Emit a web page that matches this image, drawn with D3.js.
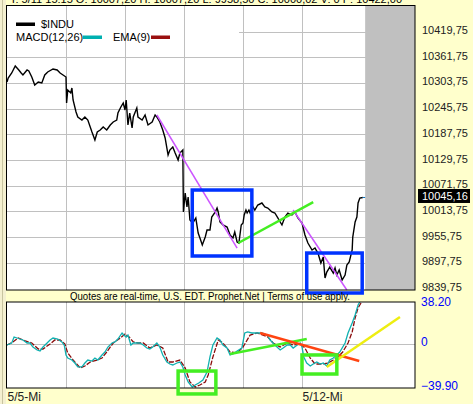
<!DOCTYPE html>
<html>
<head>
<meta charset="utf-8">
<script src="https://cdn.jsdelivr.net/npm/d3@7"></script>
<style>
  body { margin: 0; background: #ffffcc; }
  svg { display: block; font-family: "Liberation Sans", Arial, sans-serif; }
</style>
</head>
<body>
<svg id="chart" width="473" height="404"></svg>
<script>
// time is in trading days from the 5/5 open
const priceT = [0.00,0.02,0.08,0.14,0.17,0.20,0.24,0.27,0.34,0.37,
  0.42,0.47,0.53,0.59,0.64,0.69,0.78,0.85,0.90,0.95,
  1.00,1.01,1.03,1.08,1.10,1.12,1.17,1.20,1.27,1.32,
  1.37,1.44,1.49,1.53,1.58,1.63,1.69,1.75,1.80,1.86,
  1.88,1.93,1.97,2.00,2.02,2.05,2.08,2.12,2.14,2.20,
  2.22,2.29,2.34,2.39,2.46,2.51,2.54,2.59,2.64,2.68,
  2.73,2.76,2.81,2.85,2.90,2.93,2.98,2.99,3.02,3.05,
  3.07,3.10,3.15,3.20,3.24,3.27,3.31,3.36,3.39,3.44,
  3.47,3.53,3.56,3.58,3.61,3.66,3.73,3.78,3.83,3.86,
  3.90,3.93,3.97,4.00,4.02,4.05,4.07,4.10,4.12,4.17,
  4.20,4.25,4.32,4.37,4.42,4.49,4.54,4.59,4.66,4.71,
  4.76,4.83,4.88,4.93,5.00,5.05,5.10,5.17,5.22,5.27,
  5.32,5.36,5.39,5.42,5.47,5.53,5.56,5.59,5.63,5.68,
  5.73,5.76,5.80,5.85,5.86,5.90,5.93,5.95,5.98,6.03];
const priceV = [10305.8,10314.8,10326.1,10341.9,10337.4,10332.9,10326.1,10321.6,10332.9,10330.6,
  10317.0,10299.0,10305.8,10303.5,10321.6,10328.4,10335.1,10332.9,10326.1,10321.6,
  10317.0,10258.4,10287.7,10281.0,10292.2,10265.2,10238.1,10226.8,10220.0,10226.8,
  10220.0,10192.9,10174.9,10192.9,10197.5,10204.2,10197.5,10208.8,10215.5,10220.0,
  10235.8,10249.4,10258.4,10242.6,10265.2,10208.8,10235.8,10202.0,10226.8,10247.1,
  10226.8,10220.0,10231.3,10208.8,10215.5,10231.3,10226.8,10215.5,10197.5,10179.4,
  10141.0,10152.3,10159.1,10145.5,10129.7,10145.5,10152.3,10012.4,10055.3,10023.7,
  10046.2,9994.4,9987.6,9998.9,9965.0,9953.7,9937.9,9955.9,9971.8,9971.8,
  10001.1,10012.4,10021.4,10012.4,9989.8,9983.1,9978.5,9960.5,9953.7,9967.2,
  9944.7,9942.4,9983.1,9987.6,10005.6,10016.9,10010.1,10016.9,10010.1,10023.7,
  10016.9,10028.2,10032.7,10023.7,10021.4,10012.4,10010.1,9998.9,9983.1,10001.1,
  10010.1,10005.6,10012.4,9998.9,9987.6,9960.5,9942.4,9926.6,9931.1,9919.8,
  9897.3,9910.8,9863.4,9876.9,9888.2,9874.7,9886.0,9870.1,9881.4,9858.9,
  9870.1,9892.7,9899.5,9926.6,9955.9,9989.8,10001.1,10032.7,10044.0,10045.16];

const macdT = [0.00,0.08,0.12,0.17,0.22,0.27,0.34,0.39,0.44,0.51,
  0.56,0.61,0.68,0.73,0.78,0.86,0.93,0.97,1.00,1.03,
  1.10,1.15,1.20,1.27,1.32,1.37,1.44,1.49,1.54,1.61,
  1.66,1.71,1.78,1.83,1.88,1.95,1.98,2.02,2.05,2.10,
  2.14,2.20,2.25,2.31,2.37,2.42,2.47,2.54,2.59,2.64,
  2.71,2.76,2.81,2.88,2.93,2.98,3.02,3.07,3.14,3.19,
  3.25,3.32,3.39,3.44,3.49,3.56,3.61,3.66,3.73,3.78,
  3.83,3.90,3.98,4.03,4.08,4.15,4.24,4.32,4.41,4.46,
  4.54,4.63,4.68,4.75,4.80,4.85,4.92,4.97,5.00,5.03,
  5.08,5.14,5.19,5.25,5.31,5.36,5.42,5.47,5.53,5.59,
  5.64,5.73,5.78,5.85,5.90,5.95,5.98,6.02];
const macdV = [-0.85,0.97,6.4,5.5,4.6,3.7,0.97,0.97,-2.7,-5.4,
  -6.3,-2.7,0.97,3.7,5.5,4.6,1.9,-0.85,-9.9,-12.7,
  -14.5,-17.2,-20.8,-20.8,-17.2,-14.5,-15.4,-12.7,-14.5,-9.9,
  -7.2,-2.7,0.97,1.9,4.6,10.05,8.2,6.4,8.2,-0.85,
  0.97,0.97,0.97,-0.85,-3.6,-4.5,-2.7,0.97,-2.7,-9.9,
  -16.3,-18.1,-19.0,-17.2,-16.3,-20.8,-28.1,-34.4,-39.0,-37.2,
  -35.4,-32.6,-25.4,-11.7,-0.85,5.5,3.7,-0.85,-3.6,-9.9,
  -9.0,-6.3,-3.6,10.05,11.0,10.05,10.05,10.05,8.2,3.7,
  -0.85,-5.4,-3.6,-0.85,-0.85,-3.6,-0.85,0.97,-2.7,-11.7,
  -17.2,-19.9,-18.1,-16.3,-18.1,-17.2,-19.9,-14.5,-12.7,-9.9,
  -7.2,0.97,10.05,19.1,26.4,35.5,38.2,44];

const emaT = [0.00,0.10,0.19,0.31,0.42,0.53,0.61,0.73,0.81,0.90,
  0.98,1.03,1.12,1.24,1.32,1.41,1.53,1.61,1.69,1.80,
  1.92,2.00,2.07,2.14,2.22,2.31,2.42,2.54,2.64,2.73,
  2.81,2.93,3.02,3.10,3.19,3.27,3.36,3.41,3.49,3.58,
  3.66,3.78,3.90,4.00,4.12,4.24,4.34,4.42,4.51,4.63,
  4.75,4.85,4.97,5.05,5.14,5.22,5.34,5.44,5.53,5.61,
  5.69,5.78,5.85,5.90,5.95,6.00];
const emaV = [-0.85,1.9,5.5,2.8,0.97,-4.5,-4.5,0.06,3.7,3.7,
  0.06,-8.1,-14.5,-21.7,-19.9,-16.3,-14.5,-12.7,-7.2,0.97,
  5.5,9.1,6.4,1.9,0.97,0.97,-3.6,-0.85,-3.6,-16.3,
  -16.3,-14.5,-21.7,-34.4,-39.0,-37.2,-34.4,-28.1,-11.7,3.7,
  0.97,-7.2,-8.1,-2.7,8.2,10.05,8.2,6.4,0.97,-2.7,
  0.97,-0.85,0.06,-3.6,-12.7,-18.1,-18.1,-17.2,-14.5,-11.7,
  -7.2,0.97,11.0,23.7,32.8,37.3];

const priceTicks = [10419.75,10361.75,10303.75,10245.75,10187.75,10129.75,10071.75,10013.75,9955.75,9897.75,9839.75];
const macdTicks = [38.2, 0, -39.9];
const dayTicks = [1, 2, 3, 4, 5];
const dateT = [0, 5];
const dateText = ["5/5-Mi", "5/12-Mi"];
const lastPrice = 10045.16;
const futureStart = 6.07;

// hand-drawn studies on the chart
const priceLines = [
  { color: "#cc55ff", w: 1.5, t: [2.54, 3.90], v: [10231.3, 9931.1] },
  { color: "#cc55ff", w: 1.5, t: [4.85, 5.76], v: [10016.9, 9836.4] },
  { color: "#44ee22", w: 2.5, t: [3.92, 5.19], v: [9942.4, 10034.9] }
];
const priceBoxes = [
  { t: [3.14, 4.15], v: [9913.1, 10062.0] },
  { t: [5.08, 6.02], v: [9829.6, 9919.8] }
];
const macdLines = [
  { color: "#44ee22", t: [3.78, 5.08], v: [-9.0, 4.6] },
  { color: "#ff4411", t: [4.29, 5.97], v: [10.05, -15.4] },
  { color: "#eeee11", t: [5.42, 6.66], v: [-20.8, 24.6] }
];
const macdBoxes = [
  { t: [2.90, 3.54], v: [-45.3, -24.5] },
  { t: [5.00, 5.59], v: [-27.2, -9.9] }
];

const svg = d3.select("#chart");
const L = 6.5, R = 415;
const mainTop = 5.5, mainBot = 290;
const lowTop = 302, lowBot = 388;

const x = d3.scaleLinear().domain([0, 6.915]).range([7, 415]);
const yP = d3.scaleLinear().domain([9839.75, 10419.75]).range([288.5, 31.5]);
const yM = d3.scaleLinear().domain([-39.9, 38.2]).range([lowBot, lowTop]);

// left bevel
svg.append("rect").attr("x", 0).attr("y", 0).attr("width", 6).attr("height", 404).attr("fill", "#f4f0d0");
svg.append("line").attr("x1", 2.5).attr("x2", 2.5).attr("y1", 0).attr("y2", 404).attr("stroke", "#c8c4a0");

// header (scrolled up, only its lower edge shows)
svg.append("text").attr("x", 10).attr("y", 3).attr("font-size", 11).attr("fill", "#000")
  .text("T: 5/11 15:15  O: 10007,20  H: 10007,20  L: 9958,50  C: 10000,02  V: 0  P: 10422,00");

// ---- main panel
svg.append("rect").attr("x", L).attr("y", mainTop).attr("width", R - L).attr("height", mainBot - mainTop).attr("fill", "#fff");

svg.append("g").selectAll("line")
  .data(priceTicks.slice(0, -1))
  .enter().append("line")
  .attr("x1", L).attr("x2", R)
  .attr("y1", d => Math.round(yP(d)) + 0.5).attr("y2", d => Math.round(yP(d)) + 0.5)
  .attr("stroke", "#c0c0c0");

// legend sits on a white patch
svg.append("rect").attr("x", 7).attr("y", 12).attr("width", 232).attr("height", 36).attr("fill", "#fff");

svg.append("rect").attr("x", x(futureStart)).attr("y", mainTop).attr("width", R - x(futureStart)).attr("height", mainBot - mainTop).attr("fill", "#c0c0c0");

svg.append("g").selectAll("line")
  .data(dayTicks)
  .enter().append("line")
  .attr("x1", d => Math.round(x(d)) + 0.5).attr("x2", d => Math.round(x(d)) + 0.5)
  .attr("y1", mainTop).attr("y2", mainBot)
  .attr("stroke", "#c0c0c0");

const priceData = priceT.map((t, i) => ({ t, v: priceV[i] }));
svg.append("path")
  .datum(priceData)
  .attr("fill", "none").attr("stroke", "#000").attr("stroke-width", 1.4)
  .attr("d", d3.line().x(d => x(d.t)).y(d => yP(d.v)));

priceLines.forEach(l => {
  svg.append("line")
    .attr("x1", x(l.t[0])).attr("y1", yP(l.v[0]))
    .attr("x2", x(l.t[1])).attr("y2", yP(l.v[1]))
    .attr("stroke", l.color).attr("stroke-width", l.w);
});

// legend
svg.append("rect").attr("x", 16).attr("y", 22.5).attr("width", 19).attr("height", 3.5).attr("fill", "#000");
svg.append("text").attr("x", 41).attr("y", 28).attr("font-size", 11).text("$INDU");
svg.append("text").attr("x", 16).attr("y", 41).attr("font-size", 11).text("MACD(12,26)");
svg.append("rect").attr("x", 83).attr("y", 35.5).attr("width", 19).attr("height", 3.5).attr("fill", "#00b0b0");
svg.append("text").attr("x", 113).attr("y", 41).attr("font-size", 11).text("EMA(9)");
svg.append("rect").attr("x", 151).attr("y", 35.5).attr("width", 19).attr("height", 3.5).attr("fill", "#9a1010");

svg.append("rect").attr("x", L).attr("y", mainTop).attr("width", R - L).attr("height", mainBot - mainTop)
  .attr("fill", "none").attr("stroke", "#000");

// price axis
const fmtP = d => d3.format(".2f")(d).replace(".", ",");
const axP = svg.append("g").attr("transform", `translate(${R},-1.5)`)
  .call(d3.axisRight(yP).tickValues(priceTicks).tickSize(0).tickPadding(7).tickFormat(fmtP));
axP.select(".domain").remove();
axP.selectAll("text").attr("font-size", 11).attr("font-family", "Liberation Sans, Arial, sans-serif").attr("fill", "#222");

// last price tag
const lastG = svg.append("g").attr("transform", `translate(418,${yP(lastPrice) - 1.5})`);
lastG.append("rect").attr("x", 0).attr("y", -7).attr("width", 52).attr("height", 14).attr("fill", "#000");
lastG.append("text").attr("x", 4).attr("y", 4).attr("font-size", 11).attr("fill", "#fff").text(fmtP(lastPrice));
svg.append("line").attr("x1", x(6.03)).attr("x2", x(6.07)).attr("y1", yP(lastPrice)).attr("y2", yP(lastPrice))
  .attr("stroke", "#0070c0");

// ---- lower panel
svg.append("rect").attr("x", L).attr("y", lowTop).attr("width", R - L).attr("height", lowBot - lowTop).attr("fill", "#fff");
svg.append("line").attr("x1", L).attr("x2", R).attr("y1", Math.round(yM(0)) + 0.5).attr("y2", Math.round(yM(0)) + 0.5).attr("stroke", "#c0c0c0");
svg.append("g").selectAll("line")
  .data(dayTicks)
  .enter().append("line")
  .attr("x1", d => Math.round(x(d)) + 0.5).attr("x2", d => Math.round(x(d)) + 0.5)
  .attr("y1", lowTop).attr("y2", lowBot)
  .attr("stroke", "#c0c0c0");

svg.append("clipPath").attr("id", "lowClip")
  .append("rect").attr("x", L).attr("y", lowTop).attr("width", R - L).attr("height", lowBot - lowTop);

const lowG = svg.append("g").attr("clip-path", "url(#lowClip)");
const mLine = d3.line().x(d => x(d.t)).y(d => yM(d.v));
lowG.append("path")
  .datum(emaT.map((t, i) => ({ t, v: emaV[i] })))
  .attr("fill", "none").attr("stroke", "#8a0a0a").attr("stroke-width", 1.3).attr("stroke-dasharray", "5,1.5")
  .attr("d", mLine);
lowG.append("path")
  .datum(macdT.map((t, i) => ({ t, v: macdV[i] })))
  .attr("fill", "none").attr("stroke", "#10b0b0").attr("stroke-width", 1.3)
  .attr("d", mLine);

macdLines.forEach(l => {
  svg.append("line")
    .attr("x1", x(l.t[0])).attr("y1", yM(l.v[0]))
    .attr("x2", x(l.t[1])).attr("y2", yM(l.v[1]))
    .attr("stroke", l.color).attr("stroke-width", 2.5);
});

svg.append("rect").attr("x", L).attr("y", lowTop).attr("width", R - L).attr("height", lowBot - lowTop)
  .attr("fill", "none").attr("stroke", "#000");

const axM = svg.append("g").attr("transform", `translate(${R},0)`)
  .call(d3.axisRight(yM).tickValues(macdTicks).tickSize(0).tickPadding(6)
    .tickFormat(d => d === 0 ? "0" : d3.format(".2f")(d)));
axM.select(".domain").remove();
axM.selectAll("text").attr("font-size", 12).attr("font-family", "Liberation Sans, Arial, sans-serif").attr("fill", "#0000ff")
  .attr("dy", (d, i) => i === 0 ? "0.32em" : "0.15em");

// boxes drawn over the panel edges
priceBoxes.forEach(b => {
  svg.append("rect")
    .attr("x", x(b.t[0])).attr("y", yP(b.v[1]))
    .attr("width", x(b.t[1]) - x(b.t[0])).attr("height", yP(b.v[0]) - yP(b.v[1]))
    .attr("fill", "none").attr("stroke", "#0033ff").attr("stroke-width", 3.5);
});
macdBoxes.forEach(b => {
  svg.append("rect")
    .attr("x", x(b.t[0])).attr("y", yM(b.v[1]))
    .attr("width", x(b.t[1]) - x(b.t[0])).attr("height", yM(b.v[0]) - yM(b.v[1]))
    .attr("fill", "none").attr("stroke", "#44ee22").attr("stroke-width", 3.5);
});

// quote strip
svg.append("text").attr("x", 70).attr("y", 300).attr("font-size", 10.5)
  .attr("textLength", 280).attr("lengthAdjust", "spacingAndGlyphs")
  .text("Quotes are real-time, U.S. EDT. Prophet.Net | Terms of use apply.");

// dates
svg.append("g").selectAll("text")
  .data(dateT)
  .enter().append("text")
  .attr("x", d => x(d) + 0.5).attr("y", 401)
  .attr("font-size", 12).attr("fill", "#222")
  .text((d, i) => dateText[i]);
</script>
</body>
</html>
